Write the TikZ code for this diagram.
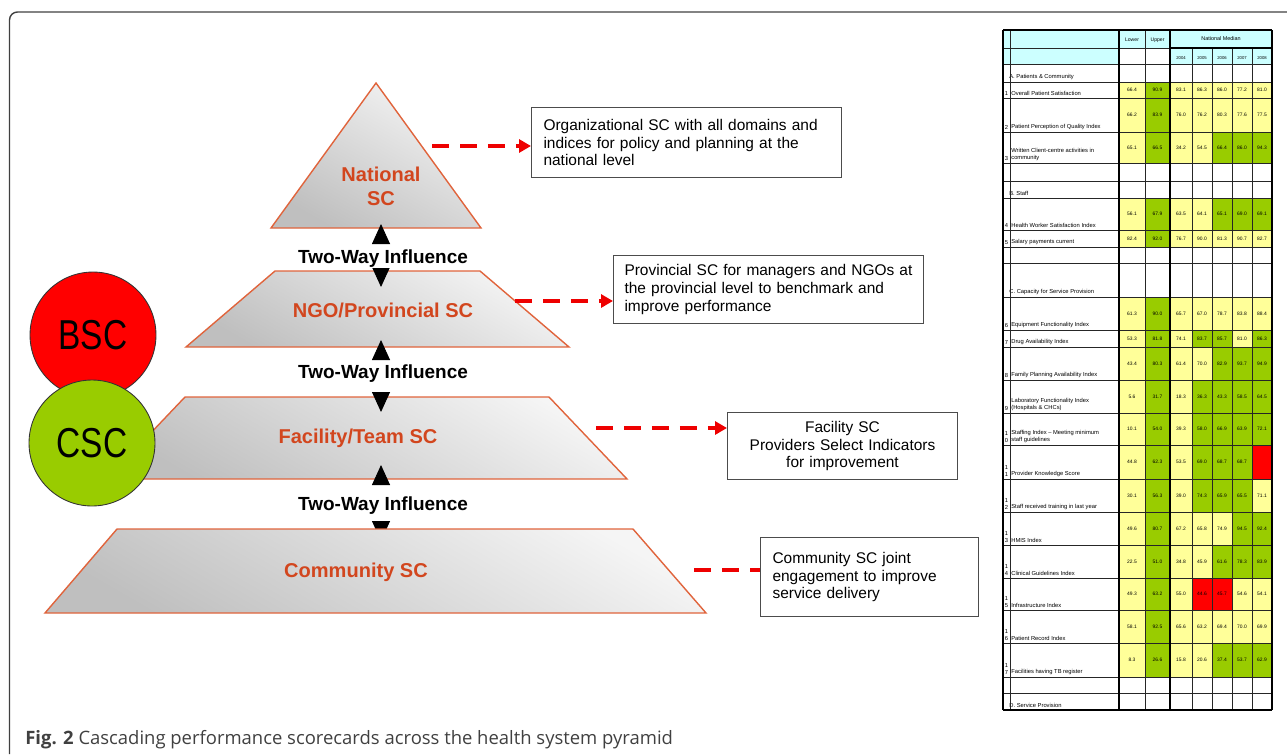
\documentclass[tikz,border=0pt]{standalone}
\usepackage{fontspec}
\setmainfont{Liberation Sans}
\newfontfamily\captionfont{Open Sans}
\usetikzlibrary{arrows.meta, positioning, calc}

\definecolor{tierline}{RGB}{224,100,60}
\definecolor{tiertext}{RGB}{210,70,30}
\definecolor{linkred}{RGB}{238,0,0}
\definecolor{bscred}{RGB}{255,0,0}
\definecolor{cscgreen}{RGB}{153,204,0}
\definecolor{tabY}{RGB}{255,255,153}
\definecolor{tabG}{RGB}{153,204,0}
\definecolor{tabR}{RGB}{255,0,0}
\definecolor{tabC}{RGB}{204,255,255}

\tikzset{
  tier/.style={draw=tierline, line width=0.8pt, top color=gray!8, bottom color=gray!50, shading angle=-30},
  tierlabel/.style={text=tiertext, align=center, font=\fontsize{11.4pt}{13.6pt}\selectfont\bfseries},
  influence/.style={fill=white, inner sep=0pt, font=\fontsize{10.8pt}{12pt}\selectfont\bfseries},
  twoway/.style={{Triangle[length=0.4cm,width=0.36cm,color=black]}-{Triangle[length=0.4cm,width=0.36cm,color=black]},
    draw=white, line width=0.5pt},
  descbox/.style={draw=black!70, line width=0.6pt, fill=white, inner xsep=0.24cm, inner ysep=0pt,
    font=\fontsize{8.8pt}{10.2pt}\selectfont, anchor=north west},
  dashlink/.style={draw=linkred, line width=2.3pt, dash pattern=on 0.34cm off 0.22cm},
  linkhead/.style={-{Triangle[length=0.24cm,width=0.26cm]}},
  scorecircle/.style={circle, draw=black!80, line width=0.5pt, minimum size=2.52cm, inner sep=0pt,
    font=\fontsize{23.8pt}{24pt}\selectfont}
}

\begin{document}
\begin{tikzpicture}[x=0.02cm, y=-0.02cm,
    tabnum/.style={inner sep=0pt, font=\fontsize{2.8pt}{3.2pt}\selectfont},
    tablab/.style={anchor=south west, inner sep=0pt, align=left, font=\fontsize{3.3pt}{4.2pt}\selectfont},
    tabno/.style={anchor=south, inner sep=0pt, align=center, font=\fontsize{3.3pt}{4.2pt}\selectfont},
    tabline/.style={black!85, line width=0.35pt},
    tabthick/.style={black, line width=0.8pt}
    ]
    \useasboundingbox (0,0) rectangle (1287,754);
    
    % frame
    \draw[black!75, line width=0.8pt, rounded corners=0.16cm] (9.5,754) -- (9.5,12) -- (1287,12);
    
    % pyramid
    \draw[tier] (376,83) -- (481,228) -- (271,228) -- cycle;
    \draw[tier] (275,271) -- (480,271) -- (569,347) -- (186,347) -- cycle;
    \draw[tier] (185,397) -- (549,397) -- (627,479) -- (107,479) -- cycle;
    
    \coordinate (natTip) at (381,224);
    \coordinate (ngoTip) at (381,287);
    \coordinate (ngoFoot) at (381,340);
    \coordinate (facTip) at (381,412);
    \coordinate (facFoot) at (381,465);
    \coordinate (comTip) at (381,541);
    \draw[twoway] (ngoTip) -- (natTip);
    \draw[twoway] (facTip) -- (ngoFoot);
    \draw[twoway] (comTip) -- (facFoot);
    
    \draw[tier] (117,529) -- (633,529) -- (706,613) -- (45,613) -- cycle;
    
    \node[tierlabel] (natlabel) at (381,186) {National\\SC};
    \node[tierlabel] (ngolabel) at (383,310) {NGO/Provincial SC};
    \node[tierlabel] (faclabel) at (358,438) {Facility/Team SC};
    \node[tierlabel] (comlabel) at (356,572) {Community SC};
    
    \node[influence] (inf1) at (383,259) {Two-Way Influence};
    \node[influence] (inf2) at (383,374) {Two-Way Influence};
    \node[influence] (inf3) at (383,506) {Two-Way Influence};
    
    % scorecards
    \node[scorecircle, fill=bscred] (bsc) at (93,335) {\scalebox{0.8}[1]{BSC}};
    \node[scorecircle, fill=cscgreen] (csc) at (92,443) {\scalebox{0.8}[1]{CSC}};
    
    % descriptions
    \node[descbox, text width=5.72cm, minimum height=1.4cm, align=left] (natbox) at (531,107)
    {Organizational SC with all domains and\\indices for policy and planning at the\\national level};
    \node[descbox, inner xsep=0.22cm, text width=5.76cm, minimum height=1.36cm, align=left] (ngobox) at (613,255)
    {Provincial SC for managers and NGOs at\\the provincial level to benchmark and\\improve performance};
    \node[descbox, text width=4.12cm, minimum height=1.34cm, align=center] (facbox) at (727,412)
    {Facility SC\\Providers Select Indicators\\for improvement};
    \node[descbox, text width=3.88cm, minimum height=1.58cm, align=left] (combox) at (760,537)
    {Community SC joint\\engagement to improve\\service delivery};
    
    \coordinate (natR) at (432,146);
    \coordinate (ngoR) at (515,301);
    \coordinate (facR) at (596,428);
    \coordinate (comR) at (694,570);
    \draw[dashlink, linkhead] (natR) -- (natR -| natbox.west);
    \draw[dashlink, linkhead] (ngoR) -- (ngoR -| ngobox.west);
    \draw[dashlink, linkhead] (facR) -- (facR -| facbox.west);
    \draw[dashlink] (comR) -- (comR -| combox.west);
    
    % scorecard table: header
    \fill[tabC] (1003,30) rectangle (1119,64);
    \fill[tabC] (1119,30) rectangle (1170,48);
    \fill[tabC] (1170,30) rectangle (1272,64);
    \node[tabnum, font=\fontsize{2.9pt}{3.4pt}\selectfont] at (1132,40) {Lower};
    \node[tabnum, font=\fontsize{2.9pt}{3.4pt}\selectfont] at (1157.5,40) {Upper};
    \node[tabnum, font=\fontsize{3.1pt}{3.6pt}\selectfont] at (1221,39) {National Median};
    \foreach \yr/\xc in {2004/1181,2005/1202,2006/1222,2007/1242,2008/1262}
    \node[tabnum, font=\fontsize{2.4pt}{3pt}\selectfont] at (\xc,58) {\yr};
    
    % scorecard table: values
    \foreach \ya/\yb/\vals in {
      82/98/{66.4/tabY,90.9/tabG,83.1/tabY,86.3/tabY,86.0/tabY,77.2/tabY,81.0/tabY},
      98/132/{66.2/tabY,83.9/tabG,76.0/tabY,76.2/tabY,80.3/tabY,77.6/tabY,77.5/tabY},
      132/163/{65.1/tabY,66.5/tabG,34.2/tabY,54.5/tabY,66.4/tabG,86.0/tabG,94.3/tabG},
      198/230/{56.1/tabY,67.9/tabG,63.5/tabY,64.1/tabY,65.1/tabG,69.0/tabG,69.1/tabG},
      230/247/{82.4/tabY,92.0/tabG,76.7/tabY,90.0/tabY,81.3/tabY,90.7/tabY,82.7/tabY},
      297/330/{61.3/tabY,90.0/tabG,65.7/tabY,67.0/tabY,78.7/tabY,83.8/tabY,88.4/tabY},
      330/347/{53.3/tabY,81.8/tabG,74.1/tabY,83.7/tabG,85.7/tabG,81.0/tabY,86.3/tabG},
      347/380/{43.4/tabY,80.3/tabG,61.4/tabY,70.0/tabY,82.9/tabG,93.7/tabG,94.9/tabG},
      380/413/{5.6/tabY,31.7/tabG,18.3/tabY,36.3/tabG,43.3/tabG,58.5/tabG,64.5/tabG},
      413/445/{10.1/tabY,54.0/tabG,39.3/tabY,58.0/tabG,66.9/tabG,63.9/tabG,72.1/tabG},
      445/479/{44.8/tabY,62.3/tabG,53.5/tabY,69.0/tabG,68.7/tabG,68.7/tabG,{}/tabR},
      479/512/{30.1/tabY,56.3/tabG,39.0/tabY,74.3/tabG,65.9/tabG,65.5/tabG,71.1/tabY},
      512/545/{49.6/tabY,80.7/tabG,67.2/tabY,65.8/tabY,74.9/tabY,94.5/tabG,92.4/tabG},
      545/578/{22.5/tabY,51.0/tabG,34.8/tabY,45.9/tabY,61.6/tabG,78.3/tabG,83.9/tabG},
      578/610/{49.3/tabY,63.2/tabG,55.0/tabY,44.6/tabR,45.7/tabR,54.6/tabY,54.1/tabY},
      610/643/{58.1/tabY,92.5/tabG,65.6/tabY,63.2/tabY,69.4/tabY,70.0/tabY,69.9/tabY},
      643/677/{8.3/tabY,26.6/tabG,15.8/tabY,20.6/tabY,37.4/tabG,53.7/tabG,62.9/tabG}}
    {
      \foreach \v/\c [count=\i] in \vals {
        \pgfmathsetmacro\xa{{1119,1145,1170,1192,1212,1232,1252}[\i-1]}
        \pgfmathsetmacro\xb{{1145,1170,1192,1212,1232,1252,1272}[\i-1]}
        \fill[\c] (\xa,\ya) rectangle (\xb,\yb);
        \node[tabnum] at ({(\xa+\xb)/2},{(\ya+\yb)/2}) {\v};
      }
    }
    
    % scorecard table: row labels
    \foreach \yb/\lab in {82/{A. Patients \& Community}, 198/{B. Staff},
      297/{C. Capacity for Service Provision}, 710/{D. Service Provision}}
    \node[tablab] at (1009,\yb-2) {\lab};
    \foreach \yb/\num/\lab in {
      98/1/{Overall Patient Satisfaction},
      132/2/{Patient Perception of Quality Index},
      163/3/{Written Client-centre activities in\\community},
      230/4/{Health Worker Satisfaction Index},
      247/5/{Salary payments current},
      330/6/{Equipment Functionality Index},
      347/7/{Drug Availability Index},
      380/8/{Family Planning Availability Index},
      413/9/{Laboratory Functionality Index\\(Hospitals \& CHCs)},
      445/{1\\0}/{Staffing Index -- Meeting minimum\\staff guidelines},
      479/{1\\1}/{Provider Knowledge Score},
      512/{1\\2}/{Staff received training in last year},
      545/{1\\3}/{HMIS Index},
      578/{1\\4}/{Clinical Guidelines Index},
      610/{1\\5}/{Infrastructure Index},
      643/{1\\6}/{Patient Record Index},
      677/{1\\7}/{Facilities having TB register}}
    {
      \node[tabno] at (1006.5,\yb-2) {\num};
      \node[tablab] at (1011,\yb-2) {\lab};
    }
    
    % scorecard table: grid
    \foreach \y in {30,48,64,82,98,132,163,181,198,230,247,263,297,330,347,380,413,445,479,512,545,578,610,643,677,693,710}
    \draw[tabline] (1003,\y) -- (1272,\y);
    \foreach \x in {1010,1145}
    \draw[tabline] (\x,30) -- (\x,710);
    \foreach \x in {1192,1212,1232,1252}
    \draw[tabline] (\x,48) -- (\x,710);
    \foreach \x in {1003,1119,1170,1272}
    \draw[tabthick] (\x,30) -- (\x,710);
    \draw[tabthick] (1003,30) -- (1272,30);
    \draw[tabthick] (1003,710) -- (1272,710);
    \draw[tabthick] (1170,48) -- (1272,48);
    
    % caption
    \node[anchor=base west, inner sep=0pt, text=black!75, font=\captionfont\fontsize{10.5pt}{12pt}\selectfont] (caption) at (25,744)
    {\textbf{Fig. 2} Cascading performance scorecards across the health system pyramid};
    
\end{tikzpicture}
\end{document}
